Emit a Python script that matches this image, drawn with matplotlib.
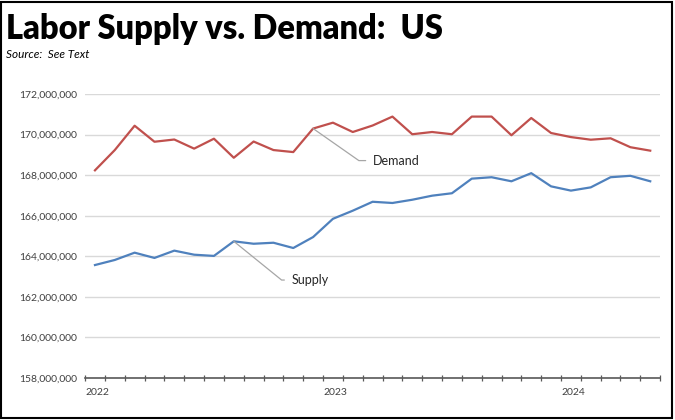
#!/usr/bin/env python
# -*- coding:utf-8 -*-

import numpy as np
import matplotlib
matplotlib.use('Agg')
import matplotlib.pyplot as plt
from matplotlib.patches import Rectangle
from matplotlib.ticker import FuncFormatter, MultipleLocator

plt.rcParams['font.family'] = ['Lato', 'DejaVu Sans']

# 月次データ 2022-01 .. 2024-05
months = ['2022-01', '2022-02', '2022-03', '2022-04', '2022-05', '2022-06',
          '2022-07', '2022-08', '2022-09', '2022-10', '2022-11', '2022-12',
          '2023-01', '2023-02', '2023-03', '2023-04', '2023-05', '2023-06',
          '2023-07', '2023-08', '2023-09', '2023-10', '2023-11', '2023-12',
          '2024-01', '2024-02', '2024-03', '2024-04', '2024-05']

demand = [168.24, 169.24, 170.44, 169.65, 169.76, 169.31, 169.80, 168.86,
          169.66, 169.24, 169.14, 170.30, 170.59, 170.13, 170.45, 170.89,
          170.02, 170.13, 170.02, 170.89, 170.89, 169.97, 170.82, 170.08,
          169.88, 169.75, 169.82, 169.38, 169.21]

supply = [163.57, 163.82, 164.18, 163.92, 164.28, 164.08, 164.02, 164.74,
          164.62, 164.67, 164.41, 164.95, 165.85, 166.25, 166.69, 166.63,
          166.79, 166.99, 167.11, 167.83, 167.90, 167.70, 168.10, 167.45,
          167.24, 167.40, 167.90, 167.97, 167.70]

year_labels = ['2022', '2023', '2024']

demand = np.array(demand) * 1e6
supply = np.array(supply) * 1e6
x = np.arange(len(months))

fig = plt.figure(figsize=(6.75, 4.2), dpi=100)
ax = fig.add_axes([0.126, 0.1, 0.852, 0.676])

# グリッド
ax.set_ylim(158e6, 172e6)
ax.yaxis.set_major_locator(MultipleLocator(2e6))
ax.yaxis.set_major_formatter(FuncFormatter(lambda v, p: '{:,.0f}'.format(v)))
ax.grid(axis='y', color='#d9d9d9', linewidth=1.0)
ax.set_axisbelow(True)
ax.tick_params(axis='y', length=0, pad=6, labelsize=7.5, labelcolor='#404040')

for s in ['top', 'right', 'left']:
    ax.spines[s].set_visible(False)
ax.spines['bottom'].set_color('#595959')
ax.spines['bottom'].set_linewidth(1.2)

ax.set_xlim(-0.5, len(months) - 0.5)
ax.set_xticks(np.arange(len(months) + 1) - 0.5)
ax.set_xticklabels([])
ax.tick_params(axis='x', direction='inout', length=5, width=0.9, color='#595959')

# 年ラベル
for k, lab in enumerate(year_labels):
    ax.text(-0.5 + 12 * k, -0.035, lab, transform=ax.get_xaxis_transform(),
            ha='left', va='top', fontsize=7.5, color='#404040')

ax.plot(x, demand, color='#C0504D', linewidth=1.6)
ax.plot(x, supply, color='#4F81BD', linewidth=1.6)

# ラベルと引出線
ax.annotate('Demand', xy=(x[11], demand[11]), xytext=(14.0, 168.72e6),
            va='center', ha='left', fontsize=9, color='#262626',
            arrowprops=dict(arrowstyle='-', color='#a6a6a6', lw=0.9,
                            shrinkA=3, shrinkB=0,
                            connectionstyle='angle,angleA=0,angleB=145,rad=0'))
ax.annotate('Supply', xy=(x[7], supply[7]), xytext=(9.9, 162.83e6),
            va='center', ha='left', fontsize=9, color='#262626',
            arrowprops=dict(arrowstyle='-', color='#a6a6a6', lw=0.9,
                            shrinkA=3, shrinkB=0,
                            connectionstyle='angle,angleA=0,angleB=141,rad=0'))

fig.text(0.009, 0.97, 'Labor Supply vs. Demand:  US', ha='left', va='top',
         fontsize=23.5, fontweight='heavy', color='black')
fig.text(0.009, 0.87, 'Source:  See Text', ha='left', va='center',
         fontsize=8.5, style='italic', color='black')

# 外枠
fig.add_artist(Rectangle((0.002, 0.004), 0.993, 0.992, transform=fig.transFigure,
                         fill=False, edgecolor='black', linewidth=1.5))

plt.savefig('out.png', dpi=100)
plt.close()
